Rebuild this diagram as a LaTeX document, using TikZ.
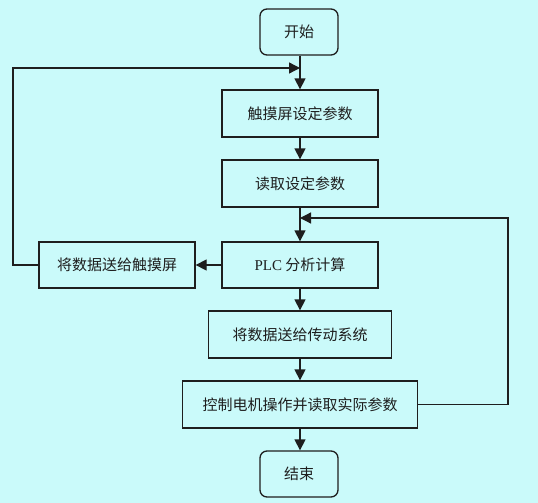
\documentclass[tikz,border=0pt]{standalone}
\usepackage{fontspec}
\setmainfont{Liberation Serif}
\newfontfamily\cjk{Noto Sans CJK SC}
\usetikzlibrary{arrows.meta}
\definecolor{bgc}{RGB}{202,250,250}
\definecolor{ink}{RGB}{30,30,30}
\begin{document}
\begin{tikzpicture}[x=1pt,y=-1pt,
  box/.style={draw=ink, line width=1.3pt, minimum height=46pt, inner sep=0pt,
    font=\cjk\fontsize{15}{15}\selectfont, text=ink},
  rbox/.style={box, rounded corners=7pt},
  arr/.style={draw=ink, line width=1.3pt, -{Triangle[length=11pt,width=11pt]}},
  ln/.style={draw=ink, line width=1.3pt}]
\fill[bgc] (0,0) rectangle (538,503);
\useasboundingbox (0,0) rectangle (538,503);
\node[rbox, minimum width=78pt] (start) at (299,32) {开始};
\node[box, minimum width=156pt, minimum height=47pt] (b1) at (300,113.5) {触摸屏设定参数};
\node[box, minimum width=156pt, minimum height=47pt] (b2) at (300,183.5) {读取设定参数};
\node[box, minimum width=156pt] (b3) at (300,265) {{\fontspec{Liberation Serif}PLC} 分析计算};
\node[box, minimum width=156pt] (left) at (117,265) {将数据送给触摸屏};
\node[box, minimum width=183pt, minimum height=47pt] (b4) at (300,334.5) {将数据送给传动系统};
\node[box, minimum width=235pt, minimum height=47pt] (b5) at (300,404.5) {控制电机操作并读取实际参数};
\node[rbox, minimum width=78pt] (end) at (299,474) {结束};
\coordinate (j1) at (300,68);
\coordinate (j2) at (300,218);
\coordinate (lc) at (13,265);
\coordinate (rc) at (508,404.5);
\draw[arr] (start.south -| j1) -- (b1.north);
\draw[arr] (b1) -- (b2);
\draw[arr] (b2) -- (b3);
\draw[arr] (b3) -- (b4);
\draw[arr] (b4) -- (b5);
\draw[arr] (b5.south) -- (end.north -| b5.south);
\draw[arr] (b3.west) -- (left.east);
\draw[arr] (left.west) -- (lc) |- (j1);
\draw[arr] (b5.east) -- (rc) |- (j2);
\end{tikzpicture}
\end{document}
